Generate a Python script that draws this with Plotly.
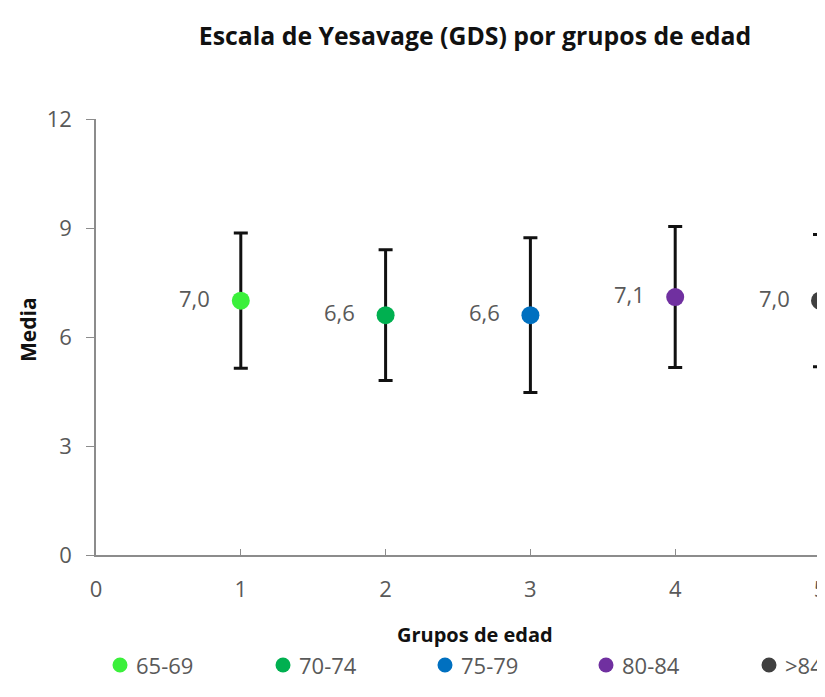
import plotly.graph_objects as go

groups = ["65-69", "70-74", "75-79", "80-84", ">84"]
x_pos = [1, 2, 3, 4, 5]
means = [7.0, 6.6, 6.6, 7.1, 7.0]
sds = [1.86, 1.8, 2.13, 1.94, 1.82]
colors = ["#3BF03B", "#00B050", "#0070C0", "#7030A0", "#404040"]
labels = ["7,0", "6,6", "6,6", "7,1", "7,0"]
y_ticks = [0, 3, 6, 9, 12]
x_ticks = [0, 1, 2, 3, 4, 5]

FONT = "Open Sans"
TICK_COLOR = "#595959"
OFF = 8  # page body margin
W, H = 825 - OFF, 697 - OFF
L = 96 - OFF
TOP = 119 - OFF
BOT = 555 - OFF
PW = W - L
PH = BOT - TOP
legend_marker_px = [120, 283, 445, 606, 769]
LEG_Y = -(665 - 555) / PH

fig = go.Figure()
for g, xv, m, s, c in zip(groups, x_pos, means, sds, colors):
    fig.add_trace(go.Scatter(
        x=[xv], y=[m], mode="markers", name=g, cliponaxis=False, showlegend=False,
        marker=dict(color=c, size=18),
        error_y=dict(type="data", array=[s], color="#111111", thickness=3, width=7),
    ))

for xv, m, t in zip(x_pos, means, labels):
    fig.add_annotation(x=xv, y=m, text=t, showarrow=False, xshift=-46, yshift=3,
                       font=dict(family=FONT, size=22, color=TICK_COLOR))

# legend (circle marker + label for each group)
for g, c, px in zip(groups, colors, legend_marker_px):
    xp = (px - OFF - L) / PW
    fig.add_shape(type="circle", xref="paper", yref="paper",
                  xsizemode="pixel", ysizemode="pixel", xanchor=xp, yanchor=LEG_Y,
                  x0=-7.5, x1=7.5, y0=-7.5, y1=7.5,
                  fillcolor=c, line=dict(width=0))
    fig.add_annotation(xref="paper", yref="paper", x=xp, y=LEG_Y, xshift=14,
                       text=g, showarrow=False, xanchor="left", yanchor="middle",
                       font=dict(family=FONT, size=22, color=TICK_COLOR))

# axis titles
fig.add_annotation(xref="paper", yref="paper", x=(475 - OFF - L) / PW, y=-(634 - 555) / PH,
                   text="<b>Grupos de edad</b>", showarrow=False, yanchor="middle",
                   font=dict(family=FONT, size=20, color="#111111"))
fig.add_annotation(xref="paper", yref="paper", x=-(96 - 28) / PW, y=(555 - 330) / PH,
                   text="<b>Media</b>", showarrow=False, textangle=-90, xanchor="center",
                   yanchor="middle", font=dict(family=FONT, size=21, color="#111111"))

fig.update_layout(
    width=W, height=H,
    margin=dict(l=L, r=0, t=TOP, b=H - BOT, autoexpand=False),
    paper_bgcolor="white", plot_bgcolor="white",
    title=dict(text="<b>Escala de Yesavage (GDS) por grupos de edad</b>",
               x=(475 - OFF) / W, xanchor="center", y=1 - (36 - OFF) / H, yanchor="middle",
               font=dict(family=FONT, size=24.8, color="#111111")),
    font=dict(family=FONT, size=21, color=TICK_COLOR),
    showlegend=False,
)
fig.update_xaxes(range=[0, 5 * PW / (820 - OFF - L)], tickvals=x_ticks,
                 ticktext=[str(v) for v in x_ticks], automargin=False,
                 ticklabeloverflow="allow",
                 showgrid=False, zeroline=False, showline=True, linecolor="#8c8c8c", linewidth=1.5,
                 ticks="inside", ticklen=6, tickcolor="#8c8c8c", ticklabelstandoff=14,
                 tickfont=dict(family=FONT, size=22, color=TICK_COLOR))
fig.update_yaxes(range=[0, 12], tickvals=y_ticks, showgrid=False, zeroline=False,
                 automargin=False,
                 showline=True, linecolor="#8c8c8c", linewidth=1.5,
                 ticks="outside", ticklen=8, tickcolor="#8c8c8c", ticklabelstandoff=10,
                 tickfont=dict(family=FONT, size=22, color=TICK_COLOR))

fig.write_html("out.html")
